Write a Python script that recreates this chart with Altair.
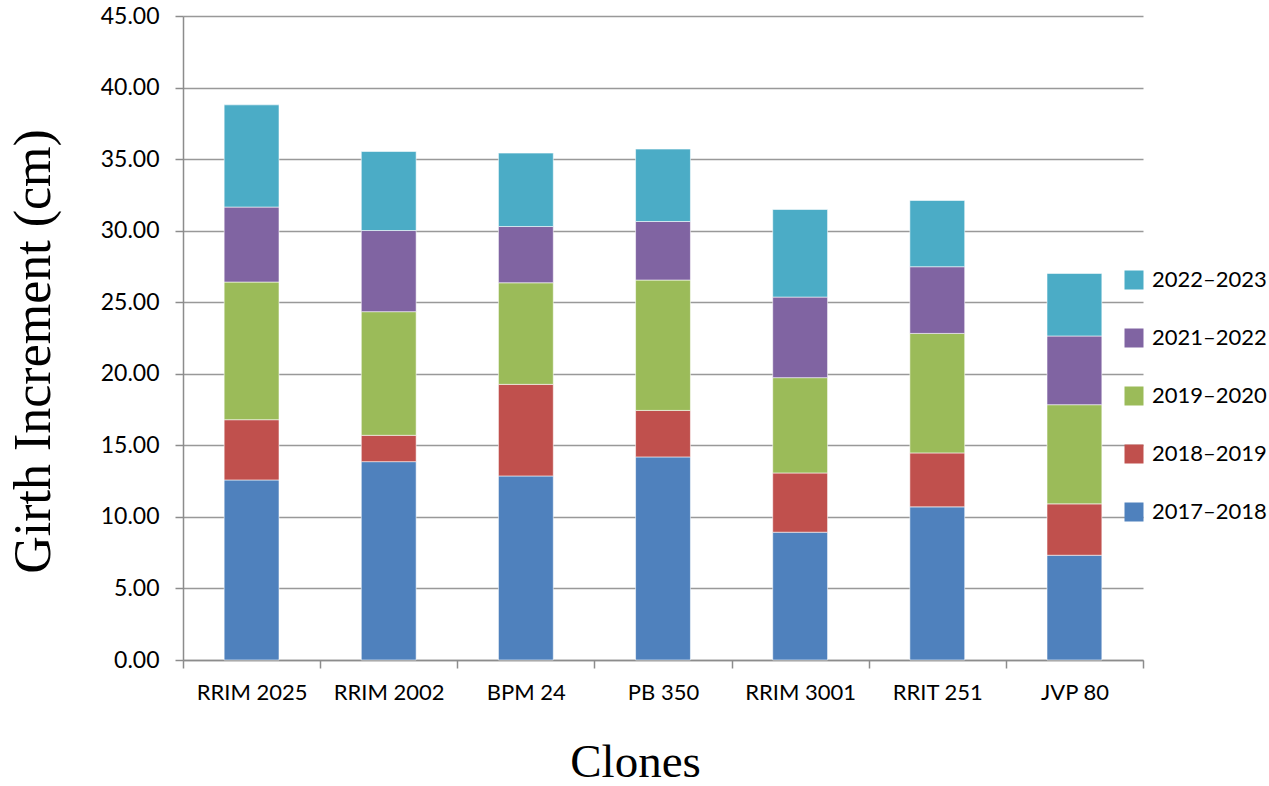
import altair as alt
import pandas as pd

# Clones on the x axis
clones = ["RRIM 2025", "RRIM 2002", "BPM 24", "PB 350", "RRIM 3001", "RRIT 251", "JVP 80"]

# Girth increment (cm) for each period, stacked bottom to top
periods = ["2017\u20132018", "2018\u20132019", "2019\u20132020", "2021\u20132022", "2022\u20132023"]
inc_2017_2018 = [12.58, 13.86, 12.86, 14.19, 8.93, 10.70, 7.32]
inc_2018_2019 = [4.21, 1.84, 6.40, 3.25, 4.14, 3.77, 3.59]
inc_2019_2020 = [9.62, 8.64, 7.10, 9.11, 6.66, 8.35, 6.93]
inc_2021_2022 = [5.24, 5.67, 3.93, 4.09, 5.63, 4.66, 4.80]
inc_2022_2023 = [7.14, 5.52, 5.13, 5.06, 6.12, 4.63, 4.37]
series_values = [inc_2017_2018, inc_2018_2019, inc_2019_2020, inc_2021_2022, inc_2022_2023]

colors = ["#4F81BD", "#C0504D", "#9BBB59", "#8064A2", "#4BACC6"]

rows = []
for i, (period, vals) in enumerate(zip(periods, series_values)):
    for clone, v in zip(clones, vals):
        rows.append({"clone": clone, "period": period, "value": v, "idx": i})
df = pd.DataFrame(rows)

label_font = "Lato"
title_font = "Liberation Serif"

chart = alt.Chart(df).mark_bar(
    width=alt.RelativeBandSize(0.4),
    stroke="#ffffff",
    strokeWidth=0.8,
    strokeOpacity=0.7,
).encode(
    x=alt.X(
        "clone:N",
        sort=clones,
        scale=alt.Scale(paddingInner=0, paddingOuter=0),
        axis=alt.Axis(
            title="Clones",
            labelAngle=0,
            labelFont=label_font,
            labelFontSize=22,
            labelColor="#000000",
            labelPadding=14,
            tickBand="extent",
            tickSize=8,
            tickColor="#8c8c8c",
            tickWidth=1.5,
            domainColor="#8c8c8c",
            domainWidth=1.5,
            titleFont=title_font,
            titleFontSize=47,
            titleFontWeight="normal",
            titleColor="#000000",
            titlePadding=36,
            titleX=452,
        ),
    ),
    y=alt.Y(
        "value:Q",
        stack="zero",
        scale=alt.Scale(domain=[0, 45], nice=False),
        axis=alt.Axis(
            title="Girth Increment (cm)",
            values=[0, 5, 10, 15, 20, 25, 30, 35, 40, 45],
            format=".2f",
            labelFont=label_font,
            labelFontSize=23,
            labelColor="#000000",
            labelPadding=16,
            tickSize=8,
            tickColor="#8c8c8c",
            tickWidth=1.5,
            domainColor="#8c8c8c",
            domainWidth=1.5,
            gridColor="#999999",
            gridWidth=1.5,
            titleFont=title_font,
            titleFontSize=52,
            titleFontWeight="normal",
            titleColor="#000000",
            titlePadding=40,
            titleY=335,
        ),
    ),
    color=alt.Color(
        "period:N",
        scale=alt.Scale(domain=periods[::-1], range=colors[::-1]),
        legend=alt.Legend(
            title=None,
            orient="none",
            legendX=940,
            legendY=253,
            symbolType="square",
            symbolSize=361,
            symbolStrokeWidth=0,
            labelFont=label_font,
            labelFontSize=22,
            labelColor="#000000",
            labelOffset=7,
            rowPadding=36,
        ),
    ),
    order=alt.Order("idx:Q", sort="ascending"),
).properties(
    width=960,
    height=644,
    autosize=alt.AutoSizeParams(type="none"),
    padding={"left": 183, "top": 16, "right": 126, "bottom": 126},
).configure_view(stroke=None)

chart.save("out.html", embed_options={"renderer": "svg", "actions": False})
